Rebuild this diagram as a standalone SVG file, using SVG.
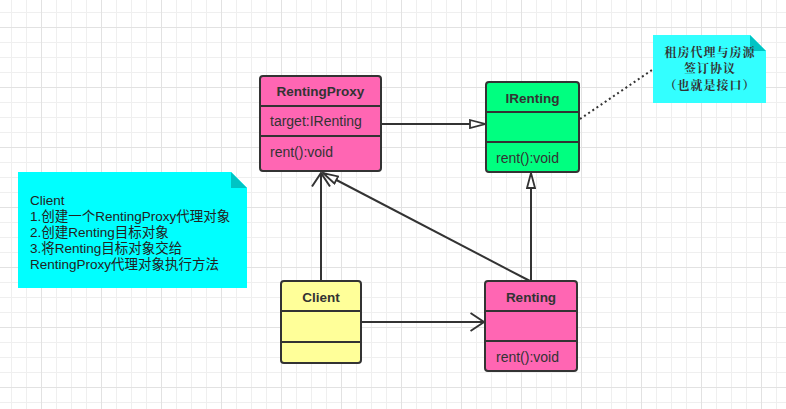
<svg xmlns="http://www.w3.org/2000/svg" width="786" height="409" viewBox="0 0 786 409">
<defs>
<pattern id="gMinor" patternUnits="userSpaceOnUse" x="11" y="12" width="15" height="15">
<path d="M0.5,0 V15 M0,0.5 H15" stroke="#efefef" stroke-width="1" fill="none"/>
</pattern>
<pattern id="gMajor" patternUnits="userSpaceOnUse" x="41" y="27" width="60" height="60">
<path d="M0.5,0 V60 M0,0.5 H60" stroke="#e2e2e2" stroke-width="1" fill="none"/>
</pattern>
<marker id="tri" viewBox="0 0 17 10" markerWidth="17" markerHeight="10" refX="16" refY="5" orient="auto" markerUnits="userSpaceOnUse">
<path d="M1,1 L16,5 L1,9 Z" fill="#fff" stroke="#333" stroke-width="1.8"/>
</marker>
<marker id="open" viewBox="0 0 16 20" markerWidth="16" markerHeight="20" refX="14.5" refY="10" orient="auto" markerUnits="userSpaceOnUse">
<path d="M1,1 L14.5,10 L1,19" fill="none" stroke="#333" stroke-width="2"/>
</marker>
</defs>
<style>
.box{stroke:#333;stroke-width:2}
.div{stroke:#333;stroke-width:2;fill:none}
.t{font-family:"Liberation Sans","Noto Sans CJK SC",sans-serif;fill:#333;font-size:14px}
.b{font-weight:bold;font-size:13.5px;text-anchor:middle}
.note{font-family:"Liberation Sans","Noto Sans CJK SC",sans-serif;fill:#222;font-size:13.5px}
.cn{font-family:"Noto Serif CJK SC","Noto Sans CJK SC",serif;font-weight:bold;fill:#333;font-size:12px;letter-spacing:1px;text-anchor:middle}
.c{stroke:#333;stroke-width:2;fill:none}
</style>
<rect width="786" height="409" fill="#fff"/>
<rect width="786" height="409" fill="url(#gMinor)"/>
<rect width="786" height="409" fill="url(#gMajor)"/>

<g id="connectors">
<line class="c" x1="381" y1="124" x2="485" y2="124" marker-end="url(#tri)"/>
<line class="c" x1="531" y1="281" x2="531" y2="173" marker-end="url(#tri)"/>
<line class="c" x1="321" y1="281" x2="321" y2="173" marker-end="url(#open)"/>
<line class="c" x1="530" y1="281" x2="323" y2="173" marker-end="url(#tri)"/>
<line class="c" x1="361" y1="322" x2="484" y2="322" marker-end="url(#open)"/>
<path d="M580,119 L652,70" stroke="#333" stroke-width="2" stroke-dasharray="2 3" fill="none"/>
</g>

<g id="RentingProxy">
<rect class="box" x="260" y="76" width="121" height="95" rx="3" fill="#ff66b3"/>
<path class="div" d="M260,106 H381 M260,136 H381"/>
<text class="t b" x="320.5" y="96">RentingProxy</text>
<text class="t" x="270" y="126">target:IRenting</text>
<text class="t" x="270" y="157">rent():void</text>
</g>

<g id="IRenting">
<rect class="box" x="486" y="82" width="93" height="90" rx="3" fill="#00ff80"/>
<path class="div" d="M486,112 H579 M486,142 H579"/>
<text class="t b" x="532.5" y="103">IRenting</text>
<text class="t" x="496" y="163">rent():void</text>
</g>

<g id="Client">
<rect class="box" x="281" y="281" width="80" height="82" rx="3" fill="#ffff99"/>
<path class="div" d="M281,311 H361 M281,342 H361"/>
<text class="t b" x="321" y="302">Client</text>
</g>

<g id="Renting">
<rect class="box" x="485" y="281" width="92" height="90" rx="3" fill="#ff66b3"/>
<path class="div" d="M485,311 H577 M485,341 H577"/>
<text class="t b" x="531" y="302">Renting</text>
<text class="t" x="496" y="362">rent():void</text>
</g>

<g id="noteClient">
<path d="M18,172 H231 L247,188 V288 H18 Z" fill="#00ffff"/>
<path d="M231,172 L247,188 H231 Z" fill="#00c4c4"/>
<text class="note" x="30" y="205">Client</text>
<text class="note" x="30" y="221">1.创建一个RentingProxy代理对象</text>
<text class="note" x="30" y="237">2.创建Renting目标对象</text>
<text class="note" x="30" y="253">3.将Renting目标对象交给</text>
<text class="note" x="30" y="269">RentingProxy代理对象执行方法</text>
</g>

<g id="noteInterface">
<path d="M653,35 H750 L766,51 V103 H653 Z" fill="#33ffff"/>
<path d="M750,35 L766,51 H750 Z" fill="#00c4c4"/>
<text class="cn" x="710" y="57">租房代理与房源</text>
<text class="cn" x="710" y="73">签订协议</text>
<text class="cn" x="710" y="89.5">（也就是接口）</text>
</g>
</svg>
